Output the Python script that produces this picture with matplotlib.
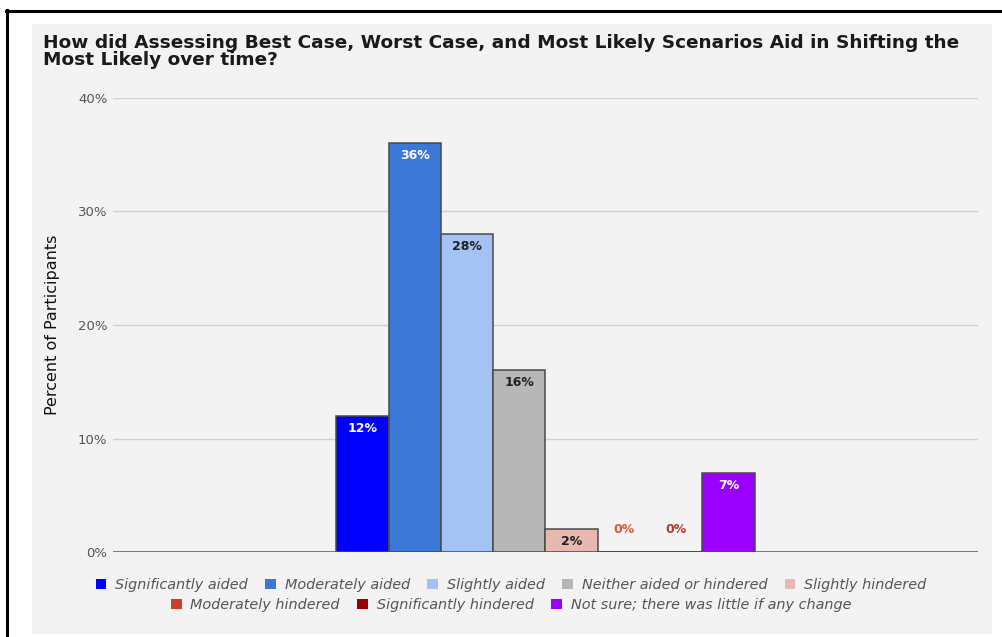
import matplotlib
matplotlib.use('Agg')
import matplotlib.pyplot as plt
from matplotlib.patches import Patch, Rectangle
from matplotlib.lines import Line2D

# Respuestas de la encuesta (porcentaje de participantes)
categorias = ['Significantly aided', 'Moderately aided', 'Slightly aided',
              'Neither aided or hindered', 'Slightly hindered',
              'Moderately hindered', 'Significantly hindered',
              'Not sure; there was little if any change']
valores = [12, 36, 28, 16, 2, 0, 0, 7]
colores = ['#0000ff', '#3c78d8', '#a4c2f4', '#b7b7b7', '#e6b8af',
           '#cc4125', '#980000', '#9900ff']
color_etiqueta = ['white', 'white', '#222222', '#222222', '#222222',
                  '#d9583b', '#b23a36', 'white']
ticks_y = [0, 10, 20, 30, 40]
titulo = ('How did Assessing Best Case, Worst Case, and Most Likely Scenarios Aid in Shifting the\n'
          'Most Likely over time?')

W, H = 1003, 637
fig = plt.figure(figsize=(W / 100, H / 100), dpi=100)
fig.patch.set_facecolor('white')

# Fondo gris y marco negro
fig.add_artist(Rectangle((32 / W, 1 - 634 / H), 960 / W, 610 / H,
                         transform=fig.transFigure, facecolor='#f3f3f3',
                         edgecolor='none', zorder=0))
fig.add_artist(Line2D([6 / W, 1], [1 - 10.5 / H, 1 - 10.5 / H],
                      transform=fig.transFigure, color='black', lw=2.2))
fig.add_artist(Line2D([7.5 / W, 7.5 / W], [0, 1 - 9.5 / H],
                      transform=fig.transFigure, color='black', lw=2.2))

ax = fig.add_axes([113 / W, 1 - 552 / H, 865 / W, 454 / H])
ax.set_facecolor('none')

handles = []
for i, (cat, v, c) in enumerate(zip(categorias, valores, colores)):
    ax.bar(i, v, width=1.0, color=c, edgecolor='#4a4a4a', linewidth=1.1, zorder=3)
    handles.append(Patch(facecolor=c, edgecolor='none', label=cat))
    if v > 0:
        y = v - 1.1
    else:
        # barra vacia: solo una linea oscura sobre la base
        ax.hlines(0, i - 0.5, i + 0.5, color='#4a4a4a', linewidth=2.0, zorder=3)
        y = 1.95
    ax.text(i, y, f'{v}%', ha='center', va='center', fontsize=9, fontweight='bold',
            color=color_etiqueta[i], zorder=4)

ax.set_ylim(0, 40)
ax.set_xlim(3.5 - 8.27, 3.5 + 8.27)
ax.set_yticks(ticks_y)
ax.set_yticklabels([f'{t}%' for t in ticks_y])
ax.tick_params(axis='y', length=0, pad=4, labelsize=9.5, labelcolor='#555555')
ax.set_xticks([])
ax.grid(axis='y', color='#d0d0d0', linewidth=1.0, zorder=0)
for s in ax.spines.values():
    s.set_visible(False)
ax.axhline(0, color='#7a7a7a', linewidth=1.4, zorder=2)
ax.set_ylabel('Percent of Participants', fontsize=11.5, color='#111111', labelpad=13)

fig.text(43 / W, 1 - 34 / H, titulo, ha='left', va='top', fontsize=13.3,
         fontweight='bold', color='#1a1a1a', linespacing=0.92)

# Leyenda en dos filas centradas
estilo = dict(frameon=False, handlelength=0.75, handleheight=0.75,
              handletextpad=0.6, columnspacing=1.2, borderpad=0,
              prop={'style': 'italic', 'size': 10.4})
leg1 = fig.legend(handles=handles[:5], ncol=5, loc='center',
                  bbox_to_anchor=(511 / W, 1 - 585 / H), **estilo)
leg2 = fig.legend(handles=handles[5:], ncol=3, loc='center',
                  bbox_to_anchor=(511 / W, 1 - 605 / H), **estilo)
for leg in (leg1, leg2):
    for t in leg.get_texts():
        t.set_color('#555555')

fig.savefig('out.png', dpi=100)
